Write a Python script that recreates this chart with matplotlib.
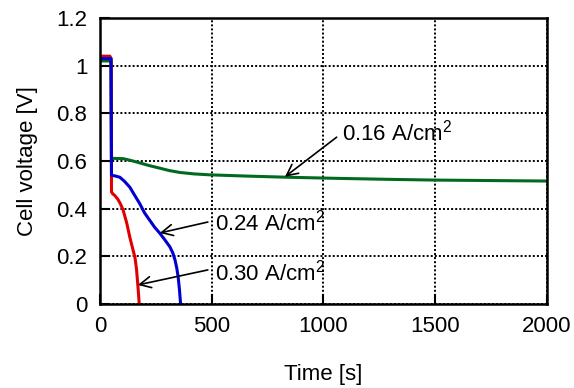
import matplotlib
matplotlib.use('Agg')
import matplotlib.pyplot as plt

plt.rcParams['font.family'] = ['Liberation Sans', 'DejaVu Sans']
plt.rcParams['mathtext.fontset'] = 'custom'
plt.rcParams['mathtext.rm'] = 'Liberation Sans'

# 0.30 A/cm2 (red)
t_030 = [0, 45, 50, 52, 58, 67, 80, 92, 104, 120, 134, 146, 157, 164, 169, 173, 176]
v_030 = [1.04, 1.04, 1.03, 0.47, 0.462, 0.455, 0.44, 0.42, 0.394, 0.34, 0.28, 0.235, 0.195,
         0.145, 0.088, 0.04, 0.0]
# 0.24 A/cm2 (blue)
t_024 = [0, 45, 50, 52, 70, 89, 110, 134, 155, 179, 200, 224, 245, 268, 290, 313, 326,
         336, 344, 350, 356, 361]
v_024 = [1.03, 1.03, 1.03, 0.54, 0.537, 0.532, 0.515, 0.49, 0.457, 0.42, 0.382, 0.35, 0.322,
         0.297, 0.27, 0.24, 0.215, 0.185, 0.15, 0.115, 0.06, 0.0]
# 0.16 A/cm2 (green)
t_016 = [0, 45, 50, 52, 60, 104, 140, 179, 220, 268, 310, 358, 420, 492, 650, 835,
         1074, 1298, 1500, 1750, 2000]
v_016 = [1.02, 1.02, 1.02, 0.61, 0.611, 0.61, 0.602, 0.592, 0.581, 0.57, 0.56, 0.552,
         0.546, 0.542, 0.537, 0.532, 0.527, 0.523, 0.52, 0.518, 0.516]

labels = [r'0.16 A/cm$^2$', r'0.24 A/cm$^2$', r'0.30 A/cm$^2$']
label_xy = [(1085, 0.718), (515, 0.34), (515, 0.134)]
arrow_tail = [(1059, 0.70), (483, 0.344), (483, 0.143)]
arrow_head = [(828, 0.534), (268, 0.298), (170, 0.08)]

fig = plt.figure(figsize=(5.74, 3.88), dpi=100)
ax = fig.add_axes([0.174, 0.2165, 0.779, 0.737])

ax.plot(t_016, v_016, color='#006a1e', lw=2.2)
ax.plot(t_030, v_030, color='#e00000', lw=2.2)
ax.plot(t_024, v_024, color='#0000d0', lw=2.2)

ax.set_xlim(0, 2000)
ax.set_ylim(0, 1.2)
ax.set_xticks([0, 500, 1000, 1500, 2000])
ax.set_yticks([0, 0.2, 0.4, 0.6, 0.8, 1.0, 1.2])
ax.set_yticklabels(['0', '0.2', '0.4', '0.6', '0.8', '1', '1.2'])
ax.tick_params(direction='in', length=7, width=1.5, labelsize=16, pad=9)
ax.grid(True, color='black', linestyle=(0, (1, 1.1)), linewidth=1.4)
for s in ax.spines.values():
    s.set_linewidth(1.8)

ax.set_xlabel('Time [s]', fontsize=16, labelpad=19)
ax.set_ylabel('Cell voltage [V]', fontsize=16, labelpad=13)

for lab, lxy, tail, head in zip(labels, label_xy, arrow_tail, arrow_head):
    ax.text(lxy[0], lxy[1], lab, fontsize=16, va='center', ha='left')
    ax.annotate('', xy=head, xytext=tail,
                arrowprops=dict(arrowstyle='->', color='black', lw=1.2,
                                mutation_scale=20, shrinkA=0, shrinkB=0))

fig.savefig('out.png', dpi=100)
